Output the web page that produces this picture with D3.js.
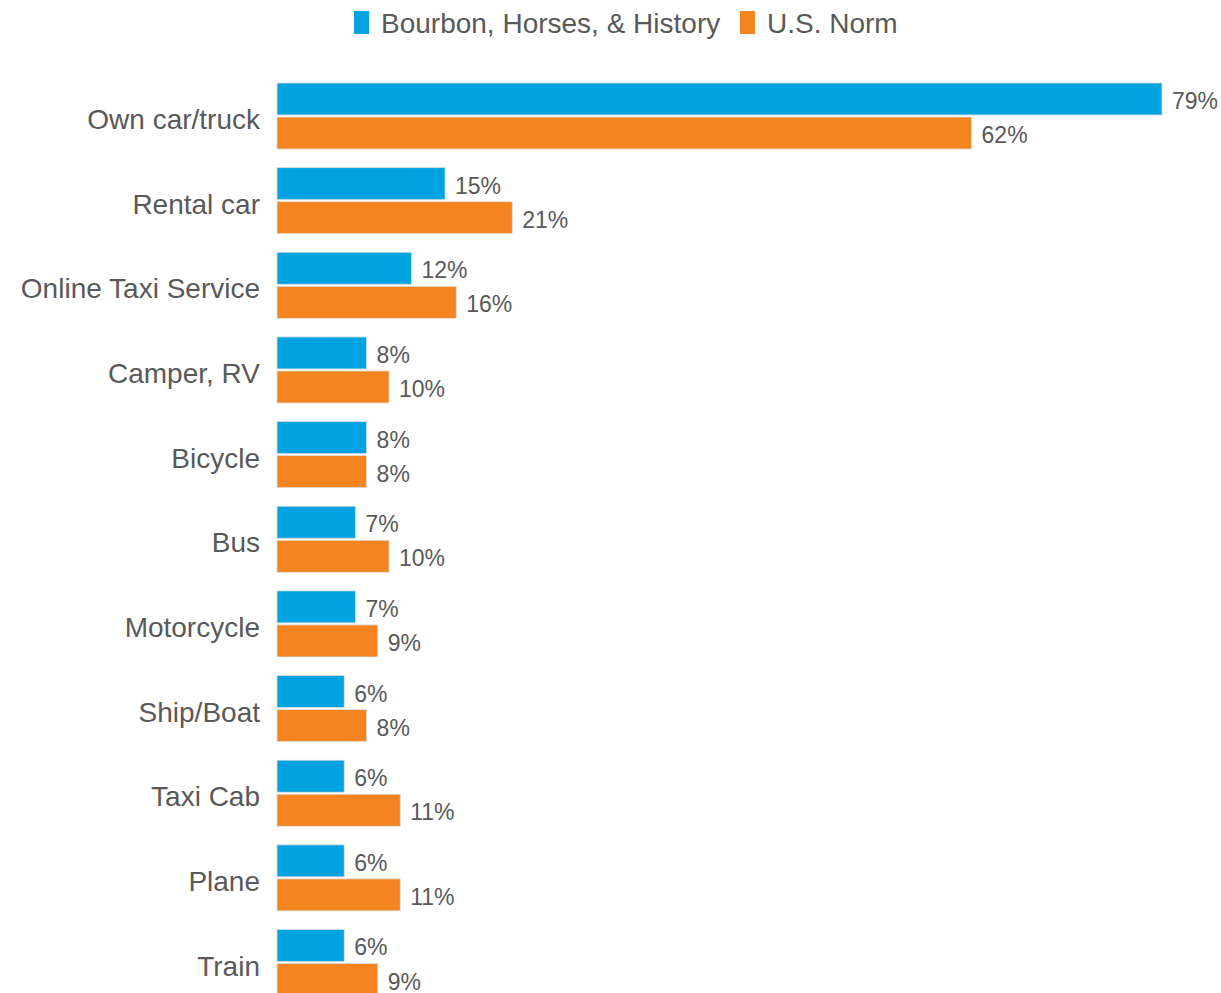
<!DOCTYPE html>
<html>
<head>
<meta charset="utf-8">
<script src="https://cdn.jsdelivr.net/npm/d3@7"></script>
<style>
  html, body { margin: 0; padding: 0; background: #ffffff; }
  svg { display: block; font-family: "Liberation Sans", Arial, sans-serif; }
</style>
</head>
<body>
<svg id="chart" width="1221" height="993"></svg>
<script>
// Transportation modes and share of respondents using each (%)
const categories = ["Own car/truck", "Rental car", "Online Taxi Service", "Camper, RV", "Bicycle",
                    "Bus", "Motorcycle", "Ship/Boat", "Taxi Cab", "Plane", "Train"];
const seriesNames = ["Bourbon, Horses, & History", "U.S. Norm"];
const bourbonValues = [79, 15, 12, 8, 8, 7, 7, 6, 6, 6, 6];
const usNormValues  = [62, 21, 16, 10, 8, 10, 9, 8, 11, 11, 9];
const seriesColors = ["#00a3e0", "#f3841f"];

const rows = categories.map((c, i) => ({
  category: c,
  values: [
    { series: seriesNames[0], value: bourbonValues[i], color: seriesColors[0] },
    { series: seriesNames[1], value: usNormValues[i], color: seriesColors[1] }
  ]
}));

const svg = d3.select("#chart");
const textColor = "#595959";

const x = d3.scaleLinear().domain([0, 79]).range([277, 1162]);

const step = 84.65;
const y = d3.scaleBand()
  .domain(categories)
  .range([83 - step * 0.11, 83 - step * 0.11 + step * categories.length])
  .paddingInner(0.22)
  .paddingOuter(0.11);

const ySub = d3.scaleBand()
  .domain(seriesNames)
  .range([0, y.bandwidth()])
  .paddingInner(0.06);

// Category labels
svg.append("g")
  .selectAll("text")
  .data(categories)
  .join("text")
  .attr("x", 260)
  .attr("y", d => y(d) + y.bandwidth() / 2 + 3.5)
  .attr("text-anchor", "end")
  .attr("dominant-baseline", "central")
  .attr("font-size", 28)
  .attr("fill", textColor)
  .text(d => d);

// Bars
const groups = svg.append("g")
  .selectAll("g")
  .data(rows)
  .join("g")
  .attr("transform", d => `translate(0,${y(d.category)})`);

groups.selectAll("rect")
  .data(d => d.values)
  .join("rect")
  .attr("x", x(0))
  .attr("y", d => ySub(d.series))
  .attr("width", d => x(d.value) - x(0))
  .attr("height", ySub.bandwidth())
  .attr("fill", d => d.color)
  .attr("stroke", "#dcdcdc")
  .attr("stroke-width", 0.8);

// Value labels
groups.selectAll("text")
  .data(d => d.values)
  .join("text")
  .attr("x", d => x(d.value) + 10)
  .attr("y", d => ySub(d.series) + ySub.bandwidth() / 2 + 2)
  .attr("dominant-baseline", "central")
  .attr("font-size", 23)
  .attr("fill", textColor)
  .text(d => d.value + "%");

// Legend
const legend = svg.append("g").attr("transform", "translate(354,23)");
const legendX = [0, 386];
const legendItems = legend.selectAll("g")
  .data(seriesNames)
  .join("g")
  .attr("transform", (d, i) => `translate(${legendX[i]},0)`);
legendItems.append("rect")
  .attr("x", 0)
  .attr("y", -12)
  .attr("width", 15)
  .attr("height", 23)
  .attr("fill", (d, i) => seriesColors[i]);
legendItems.append("text")
  .attr("x", 27)
  .attr("y", 0)
  .attr("dominant-baseline", "central")
  .attr("font-size", 28)
  .attr("fill", textColor)
  .text(d => d);
</script>
</body>
</html>
